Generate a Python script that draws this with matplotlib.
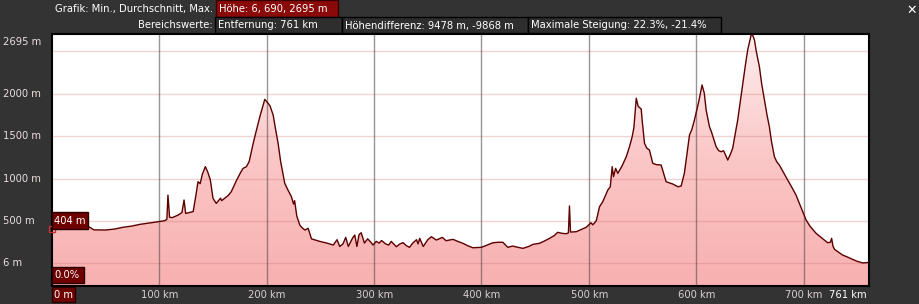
import numpy as np
import matplotlib
matplotlib.use("Agg")
import matplotlib.pyplot as plt
from matplotlib.patches import Polygon, Rectangle
from matplotlib.colors import LinearSegmentedColormap
from matplotlib.transforms import Affine2D

plt.rcParams['font.family'] = ['DejaVu Sans']

# elevation profile (km, m)
dist_km = [0, 5, 12, 20, 27, 33, 36, 39, 50, 58, 66, 74, 82, 90, 99, 105, 107, 108, 109.5, 112,
           117.6, 121, 123, 124.5, 128, 131.5, 134, 136, 138, 140, 142.8, 145, 147.5, 150, 153, 157,
           158, 160, 164, 167, 172, 176, 178, 181, 183.6, 187.4, 190, 193.6, 198.2, 201.3, 203, 206,
           208, 210.6, 213, 216.8, 220, 223, 225, 226, 228, 230.8, 233, 235.5, 238.6, 241.7, 249.4,
           256, 262, 265.5, 268, 271, 273.6, 276, 280, 282, 284, 286, 288, 291, 294, 297, 299, 302,
           304.6, 307, 310.8, 313.6, 316, 320.8, 324, 327, 330, 333, 336, 339.5, 341, 342.5, 345.8,
           350, 353.4, 358, 363.6, 367, 373.5, 378, 382.8, 387, 392, 400, 405, 410.7, 416, 420,
           424.5, 429, 434, 438.6, 444, 448, 454, 458, 463.5, 468, 471, 475, 479, 481, 482, 483,
           488.3, 493, 497.6, 502, 503.7, 507, 510, 513, 517.7, 520, 521.8, 523, 525, 527, 531,
           534.9, 538, 540.4, 542, 544.2, 546, 548.8, 550, 551.9, 554, 556.5, 559.6, 563, 567.4,
           570, 572, 575, 578.3, 583, 586, 589, 591, 593.8, 596, 598.4, 602.4, 605.5, 607.6, 609.3,
           612.4, 614, 615.5, 618.6, 621, 623.3, 625.5, 627, 629.4, 632, 634, 636, 638.7, 641,
           643.4, 646, 648, 651.2, 652.5, 654.3, 656, 658.9, 661, 663.6, 666, 668.2, 670, 672.9,
           675, 677.5, 681, 685.3, 689, 693, 697, 702.4, 706, 711.7, 717, 722.5, 725, 726.2, 727.5,
           729, 733, 736.4, 741, 745.7, 750, 755, 758, 761]
elev_m = [404, 410, 405, 405, 412, 441, 420, 396, 394, 405, 426, 440, 461, 475, 492, 504, 520, 806, 545, 540,
          571, 600, 748, 590, 600, 612, 800, 964, 940, 1050, 1141, 1080, 983, 767, 708, 770,
          740, 760, 800, 846, 983, 1080, 1121, 1140, 1199, 1416, 1550, 1730, 1935, 1888, 1860, 1750,
          1600, 1416, 1200, 944, 860, 787, 700, 740, 560, 453, 420, 394, 414, 290, 260,
          240, 217, 280, 200, 230, 307, 200, 300, 335, 200, 340, 362, 240, 290, 250, 217, 260,
          240, 270, 230, 217, 260, 197, 230, 245, 210, 190, 240, 280, 230, 296, 200,
          280, 315, 276, 307, 268, 284, 260, 237, 210, 185, 190, 215, 244, 250, 249,
          190, 205, 190, 178, 200, 225, 237, 260, 296, 330, 367, 355, 350, 360, 677, 370,
          374, 400, 426, 480, 455, 504, 669, 728, 865, 904, 1141, 1023, 1121, 1062, 1150,
          1258, 1380, 1494, 1600, 1947, 1852, 1821, 1650, 1416, 1360, 1337, 1180, 1165, 1160,
          1050, 964, 950, 936, 904, 912, 1062, 1250, 1514, 1580, 1691, 1907, 2104, 2006, 1809,
          1612, 1560, 1502, 1376, 1330, 1317, 1329, 1290, 1219, 1290, 1357, 1500, 1691, 1900,
          2124, 2350, 2516, 2693, 2695, 2635, 2500, 2320, 2120, 1927, 1750, 1612, 1450, 1258,
          1200, 1160, 1080, 983, 900, 807, 680, 512, 440, 355, 300, 244, 250, 296, 200,
          165, 130, 99, 75, 48, 25, 6, 8, 14]

y_ticks = [0, 500, 1000, 1500, 2000]
y_tick_labels = ['6 m', '500 m', '1000 m', '1500 m', '2000 m']
x_ticks = [100, 200, 300, 400, 500, 600, 700]
x_tick_labels = ['100 km', '200 km', '300 km', '400 km', '500 km', '600 km', '700 km']
total_km = 761
max_m = 2695

W, H = 920, 304
BG = '#333333'
FS = 7.2

fig = plt.figure(figsize=(W / 100, H / 100), dpi=100, facecolor=BG)
# pixel coordinates, origin top-left
px = Affine2D().scale(1.0 / W, -1.0 / H).translate(0, 1) + fig.transFigure

ax = fig.add_axes([52 / W, (H - 286) / H, (869 - 52) / W, (286 - 34) / H])
ax.set_xlim(0, total_km)
ax.set_ylim(-266, 2705)
ax.set_facecolor('white')
for s in ax.spines.values():
    s.set_color('black')
    s.set_linewidth(1.5)
ax.set_xticks([])
ax.set_yticks([])

# gradient fill under the profile
xs = np.array(dist_km)
ys = np.array(elev_m)
verts = np.column_stack([np.r_[xs[0], xs, xs[-1]], np.r_[-300, ys, -300]])
poly = Polygon(verts, closed=True, facecolor='none', edgecolor='none')
ax.add_patch(poly)
cmap = LinearSegmentedColormap.from_list('pk', ['#f8b0b0', '#fbc6c6', '#ffeeee'])
grad = np.linspace(0, 1, 256).reshape(-1, 1)
im = ax.imshow(grad, extent=[0, total_km, -266, 2705], origin='lower', aspect='auto',
               cmap=cmap, zorder=1)
im.set_clip_path(poly)

# grid
for yv in [0, 500, 1000, 1500, 2000, 2500]:
    ax.axhline(yv, color=(0.8, 0.45, 0.45, 0.3), lw=1, zorder=2)
for xv in x_ticks:
    ax.axvline(xv, color=(0.35, 0.3, 0.3, 0.6), lw=1, zorder=2)

ax.plot(xs, ys, color='#5c0000', lw=1.0, zorder=3)
ax.plot([0], [elev_m[0]], marker='s', ms=5, mfc='none', mec='#c03030', mew=1, zorder=4,
        clip_on=False)

# y labels
lab_col = '#e8dede'
fig.text(3, 42, f'{max_m} m', transform=px, color=lab_col, fontsize=FS, va='center')
for yv, lab in zip(y_ticks, y_tick_labels):
    ypix = 263.4 - yv * 0.0848
    fig.text(3, ypix, lab, transform=px, color=lab_col, fontsize=FS, va='center')

# x labels
for xv, lab in zip(x_ticks, x_tick_labels):
    xpix = 52 + xv * 1.0745
    fig.text(xpix, 295, lab, transform=px, color='#d8d0d0', fontsize=FS, ha='center', va='center')
fig.text(867, 295, f'{total_km} km', transform=px, color='white', fontsize=FS, ha='right', va='center')


def box(x0, y0, x1, y1, label, fc, ec='black', tc='white', pad=3):
    fig.patches.append(Rectangle((x0, y1), x1 - x0, y0 - y1, transform=px, facecolor=fc,
                                 edgecolor=ec, lw=1, zorder=5))
    fig.text(x0 + pad, (y0 + y1) / 2 + 0.5, label, transform=px, color=tc, fontsize=FS,
             va='center', ha='left', zorder=6)


# header
fig.text(213, 9, 'Grafik: Min., Durchschnitt, Max.', transform=px, color='white',
         fontsize=FS, ha='right', va='center')
box(216, 0, 338, 17, f'Höhe: 6, 690, {max_m} m', '#8a0a0a', ec='#3a0000')
fig.text(213, 25, 'Bereichswerte:', transform=px, color='white', fontsize=FS,
         ha='right', va='center')
box(215, 17, 342, 33, f'Entfernung: {total_km} km', '#2e2e2e')
box(342, 17, 528, 33, 'Höhendifferenz: 9478 m, -9868 m', '#2e2e2e')
box(528, 17, 721, 33, 'Maximale Steigung: 22.3%, -21.4%', '#2e2e2e')
fig.text(912, 10, '✕', transform=px, color='white', fontsize=9, fontweight='bold',
         ha='center', va='center')

# value overlays on the plot
box(52, 212, 88, 229, '404 m', '#6e0000', ec='#2a0000', pad=2)
box(52, 267, 84, 283, '0.0%', '#6e0000', ec='#2a0000', pad=2)
box(52, 287, 75, 302, '0 m', '#6e0000', ec='#2a0000', pad=2)

fig.savefig('out.png', dpi=100, facecolor=BG)
